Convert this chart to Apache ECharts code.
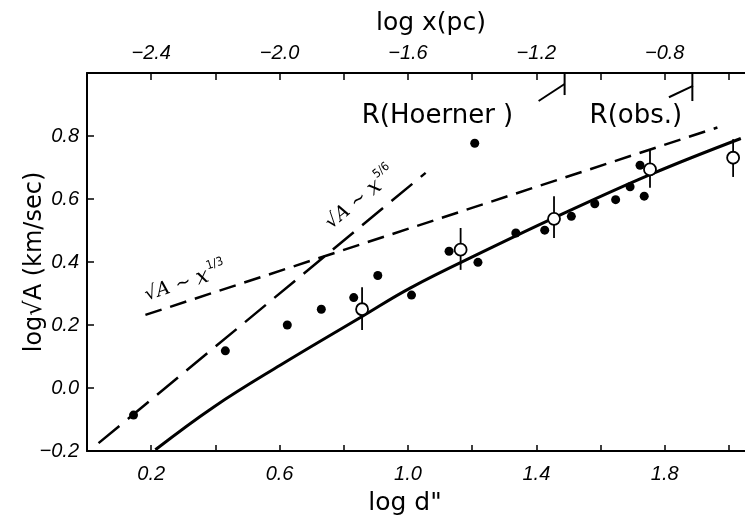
<!DOCTYPE html>
<html>
<head>
<meta charset="utf-8">
<script src="https://cdn.jsdelivr.net/npm/echarts@6/dist/echarts.min.js"></script>
<style>
  html, body { margin: 0; padding: 0; background: #fff; }
  #chart { width: 745px; height: 524px; }
</style>
</head>
<body>
<div id="chart"></div>
<script>
// filled points (log d'', log sqrt A)
const dotsX = [0.145, 0.431, 0.624, 0.730, 0.831, 0.906, 1.011, 1.128, 1.208, 1.218, 1.336, 1.426, 1.509, 1.582, 1.647, 1.692, 1.723, 1.736];
const dotsY = [-0.086, 0.118, 0.200, 0.250, 0.287, 0.357, 0.295, 0.434, 0.777, 0.399, 0.492, 0.501, 0.545, 0.585, 0.598, 0.639, 0.707, 0.609];

// open circles with error bars
const openX = [0.857, 1.164, 1.455, 1.754, 2.013];
const openY = [0.250, 0.439, 0.537, 0.694, 0.731];
const errLow = [0.184, 0.375, 0.476, 0.636, 0.670];
const errHigh = [0.320, 0.508, 0.609, 0.758, 0.790];

// solid curve
const fitX = [0.213, 0.395, 0.603, 0.857, 1.008, 1.247, 1.455, 1.756, 2.037];
const fitY = [-0.196, -0.060, 0.073, 0.227, 0.318, 0.439, 0.540, 0.678, 0.792];

// dashed power laws
const law13X = [0.182, 1.964];
const law13Y = [0.232, 0.827];
const law56X = [0.036, 1.055];
const law56Y = [-0.175, 0.683];

// R markers on the top axis (log x)
const rHoernerTick = [[-1.112, 1.0], [-1.112, 0.93]];
const rHoernerSlash = [[-1.193, 0.911], [-1.112, 0.965]];
const rObsTick = [[-0.714, 1.0], [-0.714, 0.911]];
const rObsSlash = [[-0.787, 0.923], [-0.712, 0.959]];

// log x = log d - 2.6
const xShift = 2.6;
const bottomLabels = [0.2, 0.6, 1.0, 1.4, 1.8];
const leftLabels = [-0.2, 0.0, 0.2, 0.4, 0.6, 0.8];

const tickFont = {
  color: '#000',
  fontFamily: '"Liberation Sans", sans-serif',
  fontStyle: 'italic',
  fontSize: 20
};
const textFont = '"DejaVu Sans", sans-serif';

function near(v, list) {
  return list.some(function (t) { return Math.abs(v - t) < 1e-6; });
}
function fmt(v) {
  return v.toFixed(1).replace('-', '\u2212');
}
function zip(xs, ys) {
  return xs.map(function (x, i) { return [x, ys[i]]; });
}

const annotations = [
  { value: [0.307, 0.334], rotate: 18, text: '{a|\u221AA ~ }{x|x}{s|1/3}' },
  { value: [0.853, 0.601], rotate: 39, text: '{a|\u221AA ~ }{x|x}{s|5/6}' },
  { value: [1.092, 0.863], rotate: 0, text: '{r|R(Hoerner )}' },
  { value: [1.710, 0.863], rotate: 0, text: '{r|R(obs.)}' }
];

const axisLine = { show: true, onZero: false, lineStyle: { color: '#000', width: 2 } };

const option = {
  backgroundColor: '#fff',
  animation: false,
  grid: { left: 87, right: 0, top: 73, bottom: 73, containLabel: false, outerBoundsMode: 'none' },
  xAxis: [
    {
      type: 'value', min: 0, max: 2.05, interval: 0.2,
      position: 'bottom',
      axisLine: axisLine,
      axisTick: { inside: true, length: 6, lineStyle: { color: '#000', width: 1.5 } },
      splitLine: { show: false },
      axisLabel: Object.assign({
        margin: 13, showMaxLabel: false,
        formatter: function (v) { return near(v, bottomLabels) ? fmt(v) : ''; }
      }, tickFont),
      name: 'log d"',
      nameLocation: 'middle',
      nameGap: 40,
      nameMoveOverlap: false,
      nameTextStyle: { color: '#000', fontFamily: textFont, fontSize: 25, padding: [0, 22, 0, 0] }
    },
    {
      type: 'value', min: -xShift, max: 2.05 - xShift, interval: 0.2,
      position: 'top',
      axisLine: axisLine,
      axisTick: { inside: true, length: 7, lineStyle: { color: '#000', width: 1.5 } },
      splitLine: { show: false },
      axisLabel: Object.assign({
        margin: 10, showMinLabel: false, showMaxLabel: false,
        formatter: function (v) { return near(v + xShift, bottomLabels) ? fmt(v) : ''; }
      }, tickFont),
      name: 'log x(pc)',
      nameLocation: 'middle',
      nameGap: 37,
      nameMoveOverlap: false,
      nameTextStyle: { color: '#000', fontFamily: textFont, fontSize: 25, padding: [0, 0, 0, 30] }
    }
  ],
  yAxis: {
    type: 'value', min: -0.2, max: 1.0, interval: 0.2,
    axisLine: axisLine,
    axisTick: { inside: true, length: 7, lineStyle: { color: '#000', width: 1.5 } },
    splitLine: { show: false },
    axisLabel: Object.assign({
      margin: 8, showMaxLabel: false,
      formatter: function (v) { return near(v, leftLabels) ? fmt(v) : ''; }
    }, tickFont),
    name: 'log\u221AA (km/sec)',
    nameLocation: 'middle',
    nameGap: 40,
    nameMoveOverlap: false,
    nameTextStyle: { color: '#000', fontFamily: textFont, fontSize: 24 }
  },
  series: [
    {
      type: 'line', data: zip(fitX, fitY), smooth: 0.4, symbol: 'none',
      lineStyle: { color: '#000', width: 3 }, z: 3
    },
    {
      type: 'line', data: zip(law13X, law13Y), symbol: 'none',
      lineStyle: { color: '#000', width: 2.5, type: [17, 9] }
    },
    {
      type: 'line', data: zip(law56X, law56Y), symbol: 'none',
      lineStyle: { color: '#000', width: 2.5, type: [27, 11] }
    },
    {
      type: 'line', xAxisIndex: 1, data: rHoernerTick, symbol: 'none',
      lineStyle: { color: '#000', width: 2 }
    },
    {
      type: 'line', xAxisIndex: 1, data: rHoernerSlash, symbol: 'none',
      lineStyle: { color: '#000', width: 2 }
    },
    {
      type: 'line', xAxisIndex: 1, data: rObsTick, symbol: 'none',
      lineStyle: { color: '#000', width: 2 }
    },
    {
      type: 'line', xAxisIndex: 1, data: rObsSlash, symbol: 'none',
      lineStyle: { color: '#000', width: 2 }
    },
    {
      type: 'custom',
      data: openX.map(function (x, i) { return [x, errLow[i], errHigh[i]]; }),
      renderItem: function (params, api) {
        const lo = api.coord([api.value(0), api.value(1)]);
        const hi = api.coord([api.value(0), api.value(2)]);
        return {
          type: 'line',
          shape: { x1: lo[0], y1: lo[1], x2: hi[0], y2: hi[1] },
          style: { stroke: '#000', lineWidth: 1.8 }
        };
      },
      z: 4
    },
    {
      type: 'scatter', data: zip(dotsX, dotsY), symbol: 'circle', symbolSize: 9,
      itemStyle: { color: '#000', opacity: 1 }, z: 5
    },
    {
      type: 'scatter', data: zip(openX, openY), symbol: 'circle', symbolSize: 12,
      itemStyle: { color: '#fff', borderColor: '#000', borderWidth: 1.8, opacity: 1 }, z: 6
    },
    {
      type: 'scatter', symbolSize: 0, silent: true, z: 7,
      itemStyle: { opacity: 1 },
      data: annotations.map(function (a) {
        return {
          value: a.value,
          label: {
            show: true, position: 'inside', rotate: a.rotate,
            formatter: a.text, opacity: 1,
            rich: {
              a: { fontFamily: '"DejaVu Serif", serif', fontStyle: 'italic', fontSize: 19, color: '#000' },
              x: { fontFamily: '"DejaVu Serif", serif', fontStyle: 'italic', fontSize: 22, color: '#000' },
              s: { fontFamily: '"DejaVu Sans Condensed", sans-serif', fontSize: 12, color: '#000', verticalAlign: 'top', padding: [0, 0, 18, 1] },
              r: { fontFamily: textFont, fontSize: 26, color: '#000' }
            }
          }
        };
      })
    }
  ]
};

const chart = echarts.init(document.getElementById('chart'));
chart.setOption(option);
window.addEventListener('resize', function () {
  chart.resize();
});
</script>
</body>
</html>
